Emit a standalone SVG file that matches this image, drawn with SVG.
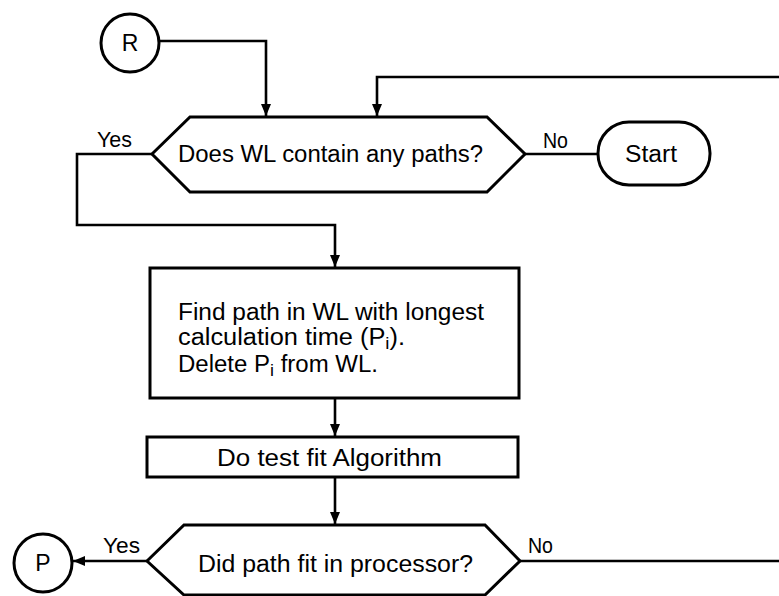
<svg xmlns="http://www.w3.org/2000/svg" width="779" height="596" viewBox="0 0 779 596">
<style>
.shape{fill:#fff;stroke:#000;stroke-width:3;stroke-linejoin:miter}
.conn{fill:none;stroke:#000;stroke-width:2.6}
text{font-family:"Liberation Sans",Arial,sans-serif;font-size:23px;fill:#000}
.lbl{font-size:22px}
</style>
<defs>
<marker id="arr" viewBox="0 0 12 10" refX="12" refY="5" markerWidth="12" markerHeight="10" markerUnits="userSpaceOnUse" orient="auto">
<path d="M0,0 L12,5 L0,10 Z" fill="#000"/>
</marker>
</defs>
<g id="connectors">
<path class="conn" d="M159,41 H266 V116" marker-end="url(#arr)"/>
<path class="conn" d="M779,77 H377 V116" marker-end="url(#arr)"/>
<path class="conn" d="M152,154 H77 V225 H335 V267" marker-end="url(#arr)"/>
<path class="conn" d="M525,154 H598"/>
<path class="conn" d="M335,398 V436" marker-end="url(#arr)"/>
<path class="conn" d="M335,477 V524" marker-end="url(#arr)"/>
<path class="conn" d="M147,561 H73" marker-end="url(#arr)"/>
<path class="conn" d="M520,561 H779"/>
<text class="lbl" x="97" y="147" textLength="35" lengthAdjust="spacingAndGlyphs">Yes</text>
<text class="lbl" x="543" y="148" textLength="25" lengthAdjust="spacingAndGlyphs">No</text>
<text class="lbl" x="103" y="553" textLength="37" lengthAdjust="spacingAndGlyphs">Yes</text>
<text class="lbl" x="528" y="553" textLength="25" lengthAdjust="spacingAndGlyphs">No</text>
</g>
<g id="node-R">
<circle class="shape" cx="130" cy="43" r="29"/>
<text x="130" y="51" text-anchor="middle">R</text>
</g>
<g id="node-decision1">
<polygon class="shape" points="152,154 190,117 487,117 525,154 487,192 190,192"/>
<text x="178" y="162" textLength="305" lengthAdjust="spacingAndGlyphs">Does WL contain any paths?</text>
</g>
<g id="node-start">
<rect class="shape" x="598" y="122" width="112" height="63" rx="31" ry="31"/>
<text x="625" y="162" textLength="52" lengthAdjust="spacingAndGlyphs">Start</text>
</g>
<g id="node-find">
<rect class="shape" x="150" y="268" width="369" height="130"/>
<text x="178" y="320" textLength="306" lengthAdjust="spacingAndGlyphs">Find path in WL with longest</text>
<text x="178" y="345" textLength="227" lengthAdjust="spacingAndGlyphs">calculation time (P<tspan font-size="17" dy="4">i</tspan><tspan dy="-4">).</tspan></text>
<text x="178" y="372" textLength="200" lengthAdjust="spacingAndGlyphs">Delete P<tspan font-size="17" dy="4">i</tspan><tspan dy="-4"> from WL.</tspan></text>
</g>
<g id="node-testfit">
<rect class="shape" x="147" y="437" width="371" height="40"/>
<text x="217" y="466" textLength="225" lengthAdjust="spacingAndGlyphs">Do test fit Algorithm</text>
</g>
<g id="node-decision2">
<polygon class="shape" points="147,561 184,525 485,525 520,561 485,595 184,595"/>
<text x="198" y="572" textLength="275" lengthAdjust="spacingAndGlyphs">Did path fit in processor?</text>
</g>
<g id="node-P">
<circle class="shape" cx="43" cy="563" r="29"/>
<text x="43" y="571" text-anchor="middle">P</text>
</g>
</svg>
